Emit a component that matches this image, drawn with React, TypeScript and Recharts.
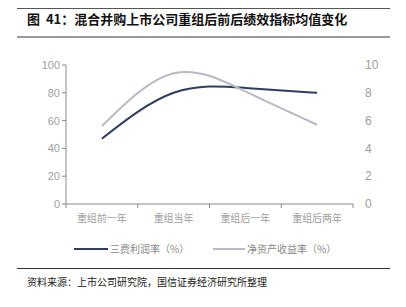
import React from "react";
import { LineChart, Line, XAxis, YAxis } from "recharts";

const categories = ["重组前一年", "重组当年", "重组后一年", "重组后两年"];
const costProfitRate = [47, 80, 83.5, 80];
const roe = [5.6, 9.4, 8.1, 5.7];
const leftTicks = [0, 20, 40, 60, 80, 100];
const rightTicks = [0, 2, 4, 6, 8, 10];

const data = categories.map((name, i) => ({
  name,
  cost: costProfitRate[i],
  roe: roe[i],
}));

const CHART_W = 406;
const PLOT_LEFT = 66;
const PLOT_RIGHT = 353;
const halfBand = (PLOT_RIGHT - PLOT_LEFT) / categories.length / 2;

const XTick = (props: any) => {
  const { x, y, payload, index } = props;
  return (
    <g>
      <line x1={x + halfBand} y1={y - 8} x2={x + halfBand} y2={y - 4} stroke="#8a8a8a" />
      {index === 0 && (
        <line x1={x - halfBand} y1={y - 8} x2={x - halfBand} y2={y - 4} stroke="#8a8a8a" />
      )}
      <text
        x={x}
        y={y + 10}
        textAnchor="middle"
        fill="#a0a0a0"
        fontSize={10}
        fontFamily="'Noto Sans CJK SC', sans-serif"
      >
        {payload.value}
      </text>
    </g>
  );
};

const legendItem: React.CSSProperties = {
  position: "absolute",
  top: 241,
  display: "flex",
  alignItems: "center",
  fontSize: 10,
  color: "#8a8a8a",
  whiteSpace: "nowrap",
};

export default function App() {
  return (
    <div
      style={{
        position: "absolute",
        left: 0,
        top: 0,
        width: 406,
        height: 307,
        background: "#fff",
        fontFamily: "'Noto Sans CJK SC', sans-serif",
      }}
    >
      <div style={{ position: "absolute", left: 17, top: 8, width: 373, borderTop: "1px solid #555" }} />
      <div
        style={{
          position: "absolute",
          left: 27,
          top: 9,
          fontSize: 13,
          fontWeight: 700,
          color: "#111",
          whiteSpace: "nowrap",
        }}
      >
        图&nbsp;&nbsp;41：混合并购上市公司重组后前后绩效指标均值变化
      </div>
      <div style={{ position: "absolute", left: 17, top: 36, width: 373, borderTop: "2px solid #999" }} />

      <div style={{ position: "absolute", left: 0, top: 0 }}>
        <LineChart
          width={CHART_W}
          height={230}
          data={data}
          margin={{ top: 65, right: 0, bottom: 0, left: 10 }}
        >
          <XAxis
            dataKey="name"
            height={26}
            axisLine={{ stroke: "#8a8a8a" }}
            tickLine={false}
            tick={<XTick />}
            interval={0}
            padding={{ left: halfBand, right: halfBand }}
          />
          <YAxis
            yAxisId="left"
            domain={[0, 100]}
            ticks={leftTicks}
            width={56}
            axisLine={{ stroke: "#8a8a8a" }}
            tickLine={{ stroke: "#8a8a8a" }}
            tickSize={4}
            tick={{ fill: "#a0a0a0", fontSize: 11, fontFamily: "'Liberation Sans', Arial, sans-serif" }}
          />
          <YAxis
            yAxisId="right"
            orientation="right"
            domain={[0, 10]}
            ticks={rightTicks}
            width={CHART_W - PLOT_RIGHT}
            axisLine={false}
            tickLine={false}
            tickMargin={6}
            tick={{
              fill: "#a0a0a0",
              fontSize: 12,
              fontFamily: "'Liberation Sans', Arial, sans-serif",
              textAnchor: "start",
            }}
          />
          <Line
            yAxisId="left"
            dataKey="cost"
            type="natural"
            stroke="#2f3e5c"
            strokeWidth={2}
            dot={false}
            isAnimationActive={false}
          />
          <Line
            yAxisId="right"
            dataKey="roe"
            type="natural"
            stroke="#b7bac6"
            strokeWidth={2}
            dot={false}
            isAnimationActive={false}
          />
        </LineChart>
      </div>

      <div style={{ ...legendItem, left: 74 }}>
        <div style={{ width: 34, borderTop: "2px solid #2f3e5c" }} />
        <span style={{ marginLeft: 2 }}>三费利润率（%）</span>
      </div>
      <div style={{ ...legendItem, left: 213 }}>
        <div style={{ width: 32, borderTop: "2px solid #b7bac6" }} />
        <span style={{ marginLeft: 2 }}>净资产收益率（%）</span>
      </div>

      <div style={{ position: "absolute", left: 17, top: 268, width: 373, borderTop: "1px solid #333" }} />
      <div style={{ position: "absolute", left: 27, top: 274, fontSize: 10, color: "#222", whiteSpace: "nowrap" }}>
        资料来源：上市公司研究院，国信证券经济研究所整理
      </div>
    </div>
  );
}
